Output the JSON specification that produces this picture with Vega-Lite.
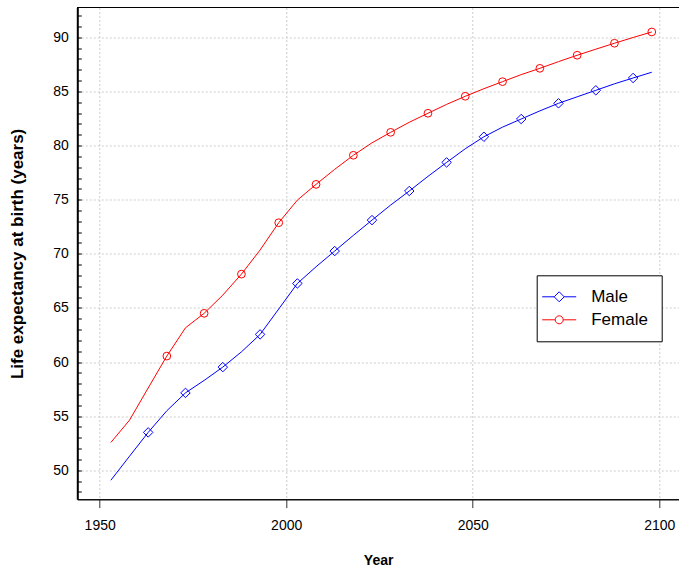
{
  "$schema": "https://vega.github.io/schema/vega-lite/v6.json",
  "width": 601.7,
  "height": 491.8,
  "autosize": "none",
  "padding": {"left": 77.3, "top": 7.5, "right": 0, "bottom": 70.7},
  "title": {"text": "Life expectancy at birth by sex", "font": "Liberation Sans", "fontSize": 21, "fontWeight": "bold", "color": "black", "anchor": "middle", "baseline": "alphabetic", "offset": 9},
  "config": {
    "view": {"stroke": null},
    "font": "Liberation Sans",
    "legend": {
      "orient": "none", "legendX": 459.4, "legendY": 267.8,
      "title": null, "labelFont": "Liberation Sans", "labelFontSize": 17, "labelColor": "black",
      "strokeColor": "black", "fillColor": "white", "padding": 13, "rowPadding": 5,
      "symbolOffset": 1, "labelOffset": 23.5, "symbolSize": 100, "symbolStrokeWidth": 1, "cornerRadius": 0
    },
    "axisX": {
      "titleFont": "Liberation Sans", "titleFontSize": 14, "titleFontWeight": "bold", "titleColor": "black", "titlePadding": 21,
      "labelFont": "Liberation Sans", "labelFontSize": 14, "labelColor": "black", "labelPadding": 11,
      "tickSize": 8.3, "tickColor": "#333333", "tickWidth": 1,
      "domainColor": "#111111", "domainWidth": 1.5,
      "grid": true, "gridColor": "#cccccc", "gridDash": [2, 2], "gridWidth": 1
    },
    "axisY": {
      "titleFont": "Liberation Sans", "titleFontSize": 17, "titleFontWeight": "bold", "titleColor": "black", "titlePadding": 26,
      "labelFont": "Liberation Sans", "labelFontSize": 14, "labelColor": "black", "labelPadding": 13,
      "tickSize": -4, "tickColor": "black", "tickWidth": 1,
      "domainColor": "black", "domainWidth": 2,
      "grid": true, "gridColor": "#cccccc", "gridDash": [2, 2], "gridWidth": 1
    }
  },
  "datasets": {"le": [
    {"year": 1953, "sex": "Male", "value": 49.08},
    {"year": 1958, "sex": "Male", "value": 51.3},
    {"year": 1963, "sex": "Male", "value": 53.5},
    {"year": 1968, "sex": "Male", "value": 55.5},
    {"year": 1973, "sex": "Male", "value": 57.15},
    {"year": 1978, "sex": "Male", "value": 58.3},
    {"year": 1983, "sex": "Male", "value": 59.53},
    {"year": 1988, "sex": "Male", "value": 60.94},
    {"year": 1993, "sex": "Male", "value": 62.55},
    {"year": 1998, "sex": "Male", "value": 64.9},
    {"year": 2003, "sex": "Male", "value": 67.26},
    {"year": 2008, "sex": "Male", "value": 68.8},
    {"year": 2013, "sex": "Male", "value": 70.25},
    {"year": 2018, "sex": "Male", "value": 71.7},
    {"year": 2023, "sex": "Male", "value": 73.11},
    {"year": 2028, "sex": "Male", "value": 74.5},
    {"year": 2033, "sex": "Male", "value": 75.8},
    {"year": 2038, "sex": "Male", "value": 77.15},
    {"year": 2043, "sex": "Male", "value": 78.44},
    {"year": 2048, "sex": "Male", "value": 79.7},
    {"year": 2053, "sex": "Male", "value": 80.81},
    {"year": 2058, "sex": "Male", "value": 81.7},
    {"year": 2063, "sex": "Male", "value": 82.45},
    {"year": 2068, "sex": "Male", "value": 83.2},
    {"year": 2073, "sex": "Male", "value": 83.9},
    {"year": 2078, "sex": "Male", "value": 84.5},
    {"year": 2083, "sex": "Male", "value": 85.1},
    {"year": 2088, "sex": "Male", "value": 85.7},
    {"year": 2093, "sex": "Male", "value": 86.24},
    {"year": 2098, "sex": "Male", "value": 86.77},
    {"year": 1953, "sex": "Female", "value": 52.57},
    {"year": 1958, "sex": "Female", "value": 54.63},
    {"year": 1963, "sex": "Female", "value": 57.6},
    {"year": 1968, "sex": "Female", "value": 60.55},
    {"year": 1973, "sex": "Female", "value": 63.16},
    {"year": 1978, "sex": "Female", "value": 64.5},
    {"year": 1983, "sex": "Female", "value": 66.18},
    {"year": 1988, "sex": "Female", "value": 68.12},
    {"year": 1993, "sex": "Female", "value": 70.35},
    {"year": 1998, "sex": "Female", "value": 72.87},
    {"year": 2003, "sex": "Female", "value": 74.96},
    {"year": 2008, "sex": "Female", "value": 76.41},
    {"year": 2013, "sex": "Female", "value": 77.8},
    {"year": 2018, "sex": "Female", "value": 79.1},
    {"year": 2023, "sex": "Female", "value": 80.25},
    {"year": 2028, "sex": "Female", "value": 81.22},
    {"year": 2033, "sex": "Female", "value": 82.15},
    {"year": 2038, "sex": "Female", "value": 82.98},
    {"year": 2043, "sex": "Female", "value": 83.8},
    {"year": 2048, "sex": "Female", "value": 84.55},
    {"year": 2053, "sex": "Female", "value": 85.25},
    {"year": 2058, "sex": "Female", "value": 85.9},
    {"year": 2063, "sex": "Female", "value": 86.55},
    {"year": 2068, "sex": "Female", "value": 87.13},
    {"year": 2073, "sex": "Female", "value": 87.75},
    {"year": 2078, "sex": "Female", "value": 88.34},
    {"year": 2083, "sex": "Female", "value": 88.9},
    {"year": 2088, "sex": "Female", "value": 89.45},
    {"year": 2093, "sex": "Female", "value": 89.98},
    {"year": 2098, "sex": "Female", "value": 90.49}
  ]},
  "data": {"name": "le"},
  "layer": [
    {"mark": {"type": "line", "strokeWidth": 1},
     "encoding": {
       "x": {"field": "year", "type": "quantitative",
         "scale": {"domain": [1944, 2105.3], "nice": false, "zero": false},
         "axis": {"values": [1950, 2000, 2050, 2100], "format": "d", "title": "Year"}},
       "y": {"field": "value", "type": "quantitative",
         "scale": {"domain": [47.32, 92.75], "nice": false, "zero": false},
         "axis": {"values": [48,49,50,51,52,53,54,55,56,57,58,59,60,61,62,63,64,65,66,67,68,69,70,71,72,73,74,75,76,77,78,79,80,81,82,83,84,85,86,87,88,89,90,91,92],
           "labelExpr": "datum.value % 5 === 0 ? datum.label : ''",
           "title": "Life expectancy at birth (years)",
           "gridOpacity": {"condition": {"test": "datum.value % 5 === 0", "value": 1}, "value": 0}}},
       "color": {"field": "sex", "type": "nominal", "scale": {"domain": ["Male", "Female"], "range": ["#0000ff", "#ff0000"]},
         "legend": {"encode": {"symbols": {"update": {
           "shape": {"signal": "datum.value === 'Male' ? 'M-3.4,0L-1,0M1,0L3.4,0M-1,0L0,-1L1,0L0,1Z' : 'M-3.4,0L-0.8,0M0.8,0L3.4,0M-0.8,0A0.8,0.8,0,1,0,0.8,0A0.8,0.8,0,1,0,-0.8,0Z'"},
           "size": {"value": 100},
           "fill": {"value": "transparent"},
           "strokeWidth": {"value": 1}}}}}}}},
    {"transform": [{"filter": "datum.sex === 'Male' && datum.year % 10 === 3 && datum.year > 1960"}],
     "mark": {"type": "point", "filled": false, "strokeWidth": 1, "opacity": 1, "size": 90, "shape": "diamond"},
     "encoding": {
       "x": {"field": "year", "type": "quantitative", "axis": {"values": [1950, 2000, 2050, 2100], "format": "d", "title": "Year"}},
       "y": {"field": "value", "type": "quantitative",
         "axis": {"values": [48,49,50,51,52,53,54,55,56,57,58,59,60,61,62,63,64,65,66,67,68,69,70,71,72,73,74,75,76,77,78,79,80,81,82,83,84,85,86,87,88,89,90,91,92],
           "labelExpr": "datum.value % 5 === 0 ? datum.label : ''",
           "title": "Life expectancy at birth (years)",
           "gridOpacity": {"condition": {"test": "datum.value % 5 === 0", "value": 1}, "value": 0}}},
       "color": {"field": "sex", "type": "nominal", "legend": null}
     }},
    {"transform": [{"filter": "datum.sex === 'Female' && datum.year % 10 === 8 && datum.year > 1960"}],
     "mark": {"type": "point", "filled": false, "strokeWidth": 1, "opacity": 1, "size": 60, "shape": "circle"},
     "encoding": {
       "x": {"field": "year", "type": "quantitative", "axis": {"values": [1950, 2000, 2050, 2100], "format": "d", "title": "Year"}},
       "y": {"field": "value", "type": "quantitative",
         "axis": {"values": [48,49,50,51,52,53,54,55,56,57,58,59,60,61,62,63,64,65,66,67,68,69,70,71,72,73,74,75,76,77,78,79,80,81,82,83,84,85,86,87,88,89,90,91,92],
           "labelExpr": "datum.value % 5 === 0 ? datum.label : ''",
           "title": "Life expectancy at birth (years)",
           "gridOpacity": {"condition": {"test": "datum.value % 5 === 0", "value": 1}, "value": 0}}},
       "color": {"field": "sex", "type": "nominal", "legend": null}
     }},
    {"mark": {"type": "rule", "color": "black", "strokeWidth": 1},
     "encoding": {"y": {"datum": 92.75, "type": "quantitative",
         "axis": {"values": [48,49,50,51,52,53,54,55,56,57,58,59,60,61,62,63,64,65,66,67,68,69,70,71,72,73,74,75,76,77,78,79,80,81,82,83,84,85,86,87,88,89,90,91,92],
           "labelExpr": "datum.value % 5 === 0 ? datum.label : ''",
           "title": "Life expectancy at birth (years)",
           "gridOpacity": {"condition": {"test": "datum.value % 5 === 0", "value": 1}, "value": 0}}}}}
  ]
}
